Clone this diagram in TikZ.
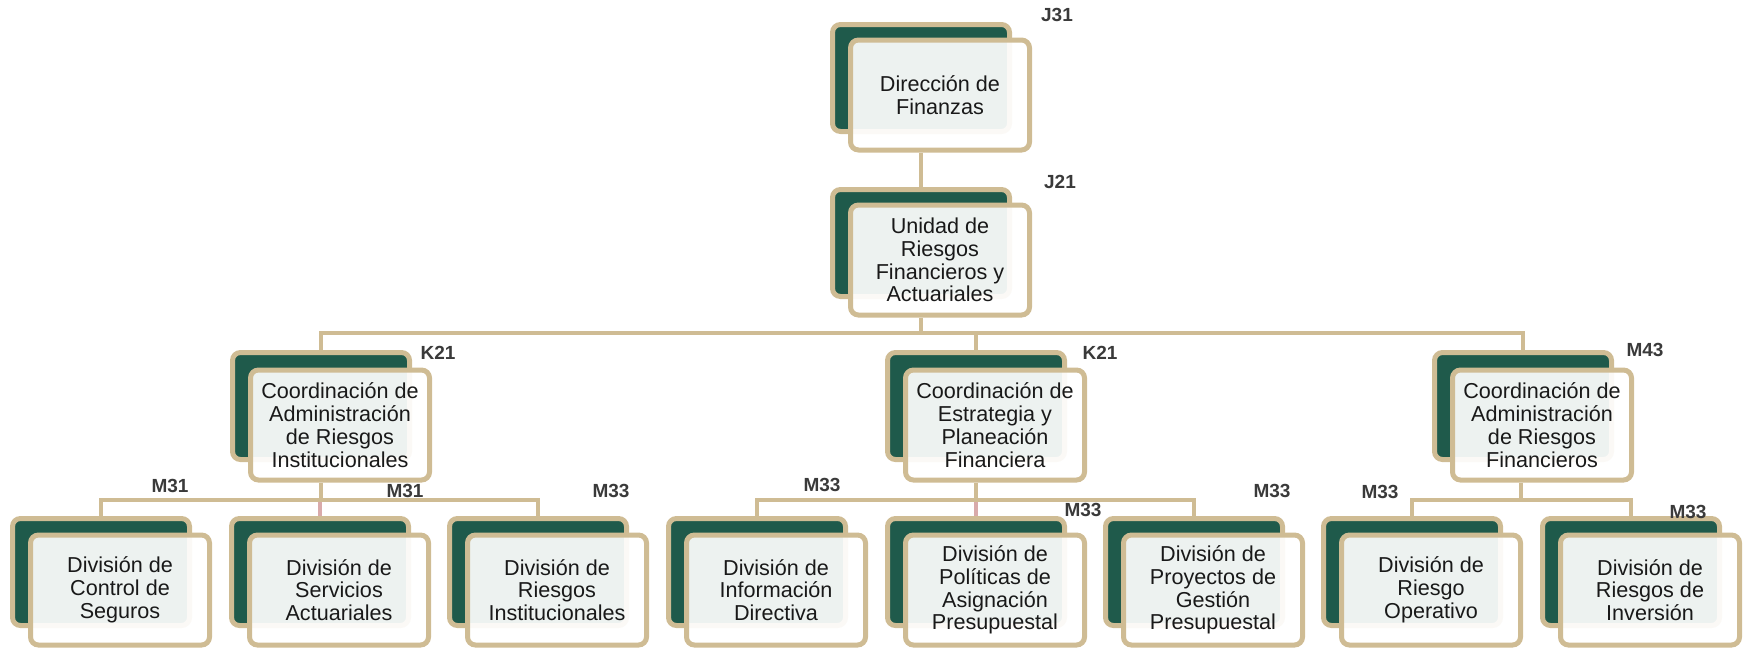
\documentclass[tikz,border=0pt]{standalone}
\usepackage{fontspec}
\setmainfont{Liberation Sans}
\usepackage{tikz}
\usetikzlibrary{calc}
\pgfdeclarelayer{background}
\pgfsetlayers{background,main}
\definecolor{orgdark}{HTML}{1F5A4B}
\definecolor{orgtan}{HTML}{CFBC94}
\definecolor{orgpink}{HTML}{D9AAAA}
\definecolor{orgtext}{HTML}{3A3A3A}
\newcommand{\orgline}{2.2pt}
\tikzset{backbox/.style={rectangle, rounded corners=4pt, draw=orgtan, line width=2.5pt, fill=orgdark, minimum width=88.5pt, minimum height=53.5pt, inner sep=0pt},
frontbox/.style={rectangle, rounded corners=4pt, draw=orgtan, line width=2.5pt, fill=white, fill opacity=0.92, text opacity=1, minimum width=89.5pt, minimum height=55pt, inner sep=0pt, align=center, font=\fontsize{10.8}{11.4}\selectfont, text=black!90},
codelbl/.style={font=\fontsize{9.5}{10}\selectfont\bfseries, text=orgtext, inner sep=0pt},
link/.style={draw=orgtan, line width=\orgline},
pinklink/.style={draw=orgpink, line width=\orgline}}

\begin{document}
\begin{tikzpicture}[x=0.5pt,y=-0.5pt]
\useasboundingbox (0,0) rectangle (1743,653);

\node[backbox] (dirB) at (921,78) {};
\node[frontbox] (dir) at (940,95) {Dirección de\\Finanzas};
\node[codelbl] (lj31) at (1057,15) {J31};

\node[backbox] (unidB) at (921,243) {};
\node[frontbox] (unid) at (940,260) {Unidad de\\Riesgos\\Financieros y\\Actuariales};
\node[codelbl] (lj21) at (1060,182) {J21};

\node[backbox] (cairB) at (321,406) {};
\node[frontbox] (cair) at (340,425) {Coordinación de\\Administración\\de Riesgos\\Institucionales};
\node[codelbl] (lk21a) at (438,353) {K21};

\node[backbox] (cepfB) at (976,406) {};
\node[frontbox] (cepf) at (995,425) {Coordinación de\\Estrategia y\\Planeación\\Financiera};
\node[codelbl] (lk21b) at (1100,353) {K21};

\node[backbox] (carfB) at (1523,406) {};
\node[frontbox] (carf) at (1542,425) {Coordinación de\\Administración\\de Riesgos\\Financieros};
\node[codelbl] (lm43) at (1645,350) {M43};

\node[backbox] (dcsB) at (101,572) {};
\node[frontbox] (dcs) at (120,590) {División de\\Control de\\Seguros};
\node[backbox] (dsaB) at (320,572) {};
\node[frontbox] (dsa) at (339,590) {División de\\Servicios\\Actuariales};
\node[backbox] (driB) at (538,572) {};
\node[frontbox] (dri) at (557,590) {División de\\Riesgos\\Institucionales};
\node[backbox] (didB) at (757,572) {};
\node[frontbox] (did) at (776,590) {División de\\Información\\Directiva};
\node[backbox] (dpapB) at (976,572) {};
\node[frontbox] (dpap) at (995,590) {División de\\Políticas de\\Asignación\\Presupuestal};
\node[backbox] (dpgpB) at (1194,572) {};
\node[frontbox] (dpgp) at (1213,590) {División de\\Proyectos de\\Gestión\\Presupuestal};
\node[backbox] (droB) at (1412,572) {};
\node[frontbox] (dro) at (1431,590) {División de\\Riesgo\\Operativo};
\node[backbox] (drinB) at (1631,572) {};
\node[frontbox] (drin) at (1650,590) {División de\\Riesgos de\\Inversión};

\node[codelbl] (lm31a) at (170,486) {M31};
\node[codelbl] (lm31b) at (405,491) {M31};
\node[codelbl] (lm33a) at (611,491) {M33};
\node[codelbl] (lm33b) at (822,485) {M33};
\node[codelbl] (lm33c) at (1083,510) {M33};
\node[codelbl] (lm33d) at (1272,491) {M33};
\node[codelbl] (lm33e) at (1380,492) {M33};
\node[codelbl] (lm33f) at (1688,512) {M33};

\coordinate (busA) at (921,333);
\coordinate (busB) at (320,500);
\coordinate (busC) at (976,500);
\coordinate (busD) at (1521,500);

\begin{pgfonlayer}{background}
\draw[link] (dirB.south |- dir.south) -- (unidB.north);
\draw[link] (unidB.south |- unid.south) -- (busA);
\draw[link] (cairB.north) |- (busA) -| (carfB.north);
\draw[link] (cepfB.north |- busA) -- (cepfB.north);

\draw[pinklink] (dsaB.north |- busB) -- (dsaB.north);
\draw[link] (cairB.south |- cair.south) -- (cairB.south |- busB);
\draw[link] (dcsB.north) |- (busB) -| (driB.north);

\draw[pinklink] (dpapB.north |- busC) -- (dpapB.north);
\draw[link] (cepfB.south |- cepf.south) -- (cepfB.south |- busC);
\draw[link] (didB.north) |- (busC) -| (dpgpB.north);

\draw[link] (busD |- carf.south) -- (busD);
\draw[link] (droB.north) |- (busD) -| (drinB.north);
\end{pgfonlayer}
\end{tikzpicture}
\end{document}
